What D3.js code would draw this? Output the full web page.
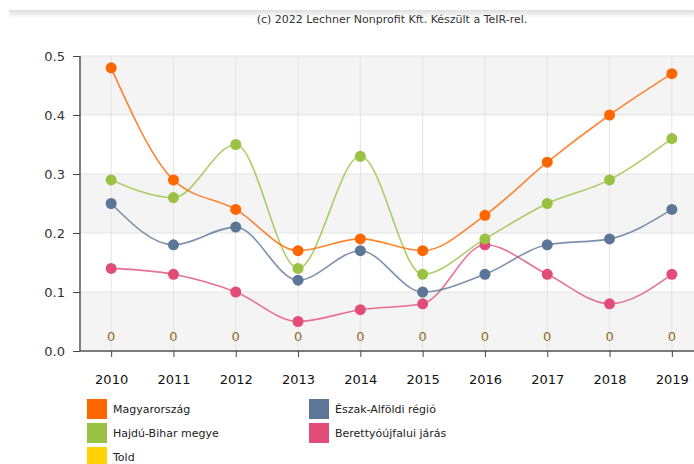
<!DOCTYPE html>
<html>
<head>
<meta charset="utf-8">
<script src="https://cdn.jsdelivr.net/npm/d3@7"></script>
<style>
  body { margin: 0; background: #fff; }
  svg { display: block; font-family: "DejaVu Sans", Verdana, sans-serif; }
</style>
</head>
<body>
<svg id="chart"></svg>
<script>
const years = [2010, 2011, 2012, 2013, 2014, 2015, 2016, 2017, 2018, 2019];
const magyarorszag = [0.48, 0.29, 0.24, 0.17, 0.19, 0.17, 0.23, 0.32, 0.40, 0.47];
const hajduBihar = [0.29, 0.26, 0.35, 0.14, 0.33, 0.13, 0.19, 0.25, 0.29, 0.36];
const eszakAlfoldi = [0.25, 0.18, 0.21, 0.12, 0.17, 0.10, 0.13, 0.18, 0.19, 0.24];
const berettyo = [0.14, 0.13, 0.10, 0.05, 0.07, 0.08, 0.18, 0.13, 0.08, 0.13];
const told = [0, 0, 0, 0, 0, 0, 0, 0, 0, 0];
const yTicks = [0, 0.1, 0.2, 0.3, 0.4, 0.5];

const series = [
  { name: "Magyarország", values: magyarorszag, color: "#ff6600" },
  { name: "Hajdú-Bihar megye", values: hajduBihar, color: "#99c143" },
  { name: "Told", values: told, color: "#ffd200" },
  { name: "Észak-Alföldi régió", values: eszakAlfoldi, color: "#5b7697" },
  { name: "Berettyóújfalui járás", values: berettyo, color: "#e14d78" }
];
// drawing order (back to front)
const drawOrder = ["Berettyóújfalui járás", "Észak-Alföldi régió", "Hajdú-Bihar megye", "Magyarország"];

const W = 694, H = 464;
const svg = d3.select("#chart").attr("width", W).attr("height", H);

// top shadow strip
const defs = svg.append("defs");
const grad = defs.append("linearGradient").attr("id", "shade")
  .attr("x1", 0).attr("y1", 0).attr("x2", 0).attr("y2", 1);
grad.append("stop").attr("offset", "0%").attr("stop-color", "#dedede");
grad.append("stop").attr("offset", "100%").attr("stop-color", "#ffffff");
svg.append("rect").attr("x", 9).attr("y", 10).attr("width", W - 9).attr("height", 8)
  .attr("fill", "url(#shade)");

svg.append("text")
  .attr("x", 392).attr("y", 23)
  .attr("text-anchor", "middle")
  .attr("font-size", 11)
  .attr("fill", "#333")
  .text("(c) 2022 Lechner Nonprofit Kft. Készült a TeIR-rel.");

const plotL = 80, plotR = 703, plotT = 56, plotB = 351;
const x = d3.scalePoint().domain(years).range([plotL, plotR]).padding(0.5);
const y = d3.scaleLinear().domain([0, 0.5]).range([plotB, plotT]);

// alternating bands
const bands = svg.append("g");
yTicks.slice(0, -1).forEach((t, i) => {
  if (i % 2 === 0) {
    bands.append("rect")
      .attr("x", plotL).attr("width", plotR - plotL)
      .attr("y", y(t + 0.1)).attr("height", y(t) - y(t + 0.1))
      .attr("fill", "#f4f4f4");
  }
});

// grid
svg.append("g")
  .selectAll("line").data(yTicks).join("line")
  .attr("x1", plotL).attr("x2", plotR)
  .attr("y1", d => y(d)).attr("y2", d => y(d))
  .attr("stroke", "#e4e4e4").attr("stroke-width", 1);
svg.append("g")
  .selectAll("line").data(years).join("line")
  .attr("x1", d => x(d)).attr("x2", d => x(d))
  .attr("y1", plotT).attr("y2", plotB)
  .attr("stroke", "#e4e4e4").attr("stroke-width", 1);

// axes
const yAxis = svg.append("g")
  .attr("transform", `translate(${plotL},0)`)
  .call(d3.axisLeft(y).tickValues(yTicks).tickFormat(d3.format(".1f")).tickSize(7).tickPadding(8));
yAxis.selectAll("text").attr("font-size", 13).attr("fill", "#333")
  .attr("font-family", "DejaVu Sans, Verdana, sans-serif");
yAxis.selectAll("line").attr("stroke", "#444");
yAxis.select(".domain").attr("stroke", "#555").attr("stroke-width", 1.5)
  .attr("d", `M0,${plotT}V${plotB}`);

const xAxis = svg.append("g")
  .attr("transform", `translate(0,${plotB})`)
  .call(d3.axisBottom(x).tickSize(6).tickPadding(18));
xAxis.selectAll("text").attr("font-size", 13).attr("fill", "#111")
  .attr("font-family", "DejaVu Sans, Verdana, sans-serif");
xAxis.selectAll("line").attr("stroke", "#444");
xAxis.select(".domain").attr("stroke", "#555").attr("stroke-width", 1.5)
  .attr("d", `M${plotL},0H${plotR}`);

// lines
const line = d3.line()
  .x((d, i) => x(years[i]))
  .y(d => y(d))
  .curve(d3.curveMonotoneX);

drawOrder.forEach(name => {
  const s = series.find(s => s.name === name);
  const g = svg.append("g");
  g.append("path")
    .attr("d", line(s.values))
    .attr("fill", "none")
    .attr("stroke", s.color)
    .attr("stroke-width", 1.6)
    .attr("stroke-opacity", 0.8);
  g.selectAll("circle").data(s.values).join("circle")
    .attr("cx", (d, i) => x(years[i]))
    .attr("cy", d => y(d))
    .attr("r", 5.5)
    .attr("fill", s.color);
});

// Told: zero labels
svg.append("g")
  .selectAll("text").data(told).join("text")
  .attr("x", (d, i) => x(years[i]))
  .attr("y", d => y(d) - 10)
  .attr("text-anchor", "middle")
  .attr("font-size", 13)
  .attr("fill", "#8f6c1c")
  .text(d => d);

// legend
const legendItems = [
  { s: "Magyarország", col: 0, row: 0 },
  { s: "Hajdú-Bihar megye", col: 0, row: 1 },
  { s: "Told", col: 0, row: 2 },
  { s: "Észak-Alföldi régió", col: 1, row: 0 },
  { s: "Berettyóújfalui járás", col: 1, row: 1 }
];
const legend = svg.append("g");
legendItems.forEach(it => {
  const s = series.find(d => d.name === it.s);
  const lx = it.col === 0 ? 87 : 309;
  const ly = 399 + it.row * 24;
  legend.append("rect").attr("x", lx).attr("y", ly)
    .attr("width", 20).attr("height", 20).attr("fill", s.color);
  legend.append("text").attr("x", lx + 26).attr("y", ly + 14)
    .attr("font-size", 11).attr("fill", "#222").text(s.name);
});
</script>
</body>
</html>
